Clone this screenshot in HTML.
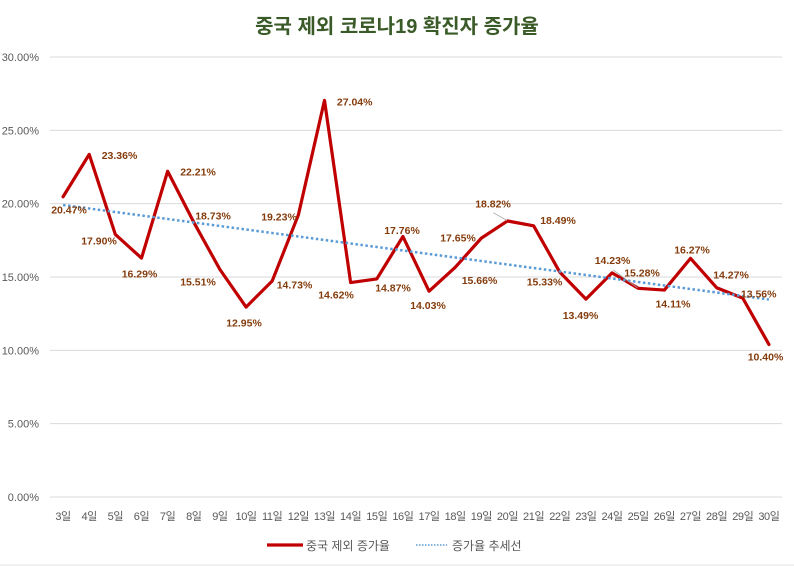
<!DOCTYPE html>
<html><head><meta charset="utf-8"><style>
html,body{margin:0;padding:0;background:#fff;}
svg{display:block;}
text{font-family:"Liberation Sans","Noto Sans CJK KR",sans-serif;}
</style></head><body>
<svg width="794" height="567" viewBox="0 0 794 567" xmlns="http://www.w3.org/2000/svg">
<rect width="794" height="567" fill="#fff"/>
<line x1="0" y1="565" x2="794" y2="565" stroke="#e3e3e3" stroke-width="1"/>
<text x="397" y="33" text-anchor="middle" font-size="20" font-weight="bold" fill="#3a5a28">중국 제외 코로나19 확진자 증가율</text>
<g stroke="#d9d9d9" stroke-width="1">
<line x1="50" y1="57" x2="782" y2="57"/>
<line x1="50" y1="130.33" x2="782" y2="130.33"/>
<line x1="50" y1="203.67" x2="782" y2="203.67"/>
<line x1="50" y1="277" x2="782" y2="277"/>
<line x1="50" y1="350.33" x2="782" y2="350.33"/>
<line x1="50" y1="423.67" x2="782" y2="423.67"/>
<line x1="50" y1="497" x2="782" y2="497"/>
</g>
<g font-size="11" fill="#595959" text-anchor="end">
<text x="39" y="61">30.00%</text>
<text x="39" y="134.3">25.00%</text>
<text x="39" y="207.7">20.00%</text>
<text x="39" y="281">15.00%</text>
<text x="39" y="354.3">10.00%</text>
<text x="39" y="427.7">5.00%</text>
<text x="39" y="501">0.00%</text>
</g>
<g font-size="11" fill="#595959" text-anchor="middle" letter-spacing="-0.4">
<text x="63.07" y="520">3일</text>
<text x="89.21" y="520">4일</text>
<text x="115.36" y="520">5일</text>
<text x="141.50" y="520">6일</text>
<text x="167.64" y="520">7일</text>
<text x="193.79" y="520">8일</text>
<text x="219.93" y="520">9일</text>
<text x="246.07" y="520">10일</text>
<text x="272.21" y="520">11일</text>
<text x="298.36" y="520">12일</text>
<text x="324.50" y="520">13일</text>
<text x="350.64" y="520">14일</text>
<text x="376.79" y="520">15일</text>
<text x="402.93" y="520">16일</text>
<text x="429.07" y="520">17일</text>
<text x="455.21" y="520">18일</text>
<text x="481.36" y="520">19일</text>
<text x="507.50" y="520">20일</text>
<text x="533.64" y="520">21일</text>
<text x="559.79" y="520">22일</text>
<text x="585.93" y="520">23일</text>
<text x="612.07" y="520">24일</text>
<text x="638.21" y="520">25일</text>
<text x="664.36" y="520">26일</text>
<text x="690.50" y="520">27일</text>
<text x="716.64" y="520">28일</text>
<text x="742.79" y="520">29일</text>
<text x="768.93" y="520">30일</text>
</g>
<polyline fill="none" stroke="#c00000" stroke-width="3.2" stroke-linejoin="round" stroke-linecap="round" points="63.07,196.77 89.21,154.39 115.36,234.47 141.50,258.08 167.64,171.25 193.79,222.29 219.93,269.52 246.07,307.07 272.21,280.96 298.36,214.96 324.50,100.41 350.64,282.57 376.79,278.91 402.93,236.52 429.07,291.23 455.21,267.32 481.36,238.13 507.50,220.97 533.64,225.81 559.79,272.16 585.93,299.15 612.07,272.89 638.21,288.29 664.36,290.05 690.50,258.37 716.64,287.71 742.79,298.12 768.93,344.47"/>
<line x1="63.07" y1="205.0" x2="768.93" y2="299.5" stroke="#5b9bd5" stroke-width="2.5" stroke-dasharray="2.5 2.5"/>
<g stroke="#a6a6a6" stroke-width="0.8">
<line x1="493.3" y1="212.7" x2="507" y2="220.5"/>
<line x1="613.3" y1="270" x2="637.5" y2="287.8"/>
</g>
<g font-size="10.5" font-weight="bold" fill="#843c0c" text-anchor="middle">
<text x="69" y="213.3">20.47%</text>
<text x="119.5" y="159">23.36%</text>
<text x="99" y="244.7">17.90%</text>
<text x="139.5" y="277.3">16.29%</text>
<text x="198" y="175.7">22.21%</text>
<text x="213" y="219.7">18.73%</text>
<text x="198" y="285.7">15.51%</text>
<text x="244" y="326.7">12.95%</text>
<text x="294.5" y="288.3">14.73%</text>
<text x="279" y="220.7">19.23%</text>
<text x="354.7" y="105.7">27.04%</text>
<text x="336" y="298.3">14.62%</text>
<text x="393" y="291.3">14.87%</text>
<text x="402" y="234">17.76%</text>
<text x="428" y="309">14.03%</text>
<text x="479.5" y="284">15.66%</text>
<text x="458" y="241.7">17.65%</text>
<text x="493" y="207.3">18.82%</text>
<text x="558" y="224">18.49%</text>
<text x="544.5" y="285.7">15.33%</text>
<text x="580.5" y="319">13.49%</text>
<text x="642" y="276.7">15.28%</text>
<text x="612.5" y="264">14.23%</text>
<text x="673" y="307.3">14.11%</text>
<text x="692" y="253.3">16.27%</text>
<text x="731" y="278.3">14.27%</text>
<text x="758.7" y="297.3">13.56%</text>
<text x="765.5" y="360.7">10.40%</text>
</g>
<line x1="267" y1="545" x2="303" y2="545" stroke="#c00000" stroke-width="3.2"/>
<text x="306" y="550" font-size="12" fill="#595959">중국 제외 증가율</text>
<line x1="416" y1="545" x2="447" y2="545" stroke="#5b9bd5" stroke-width="1.5" stroke-dasharray="1.5 1.5"/>
<text x="452" y="550" font-size="12" fill="#595959">증가율 추세선</text>
</svg>
</body></html>
